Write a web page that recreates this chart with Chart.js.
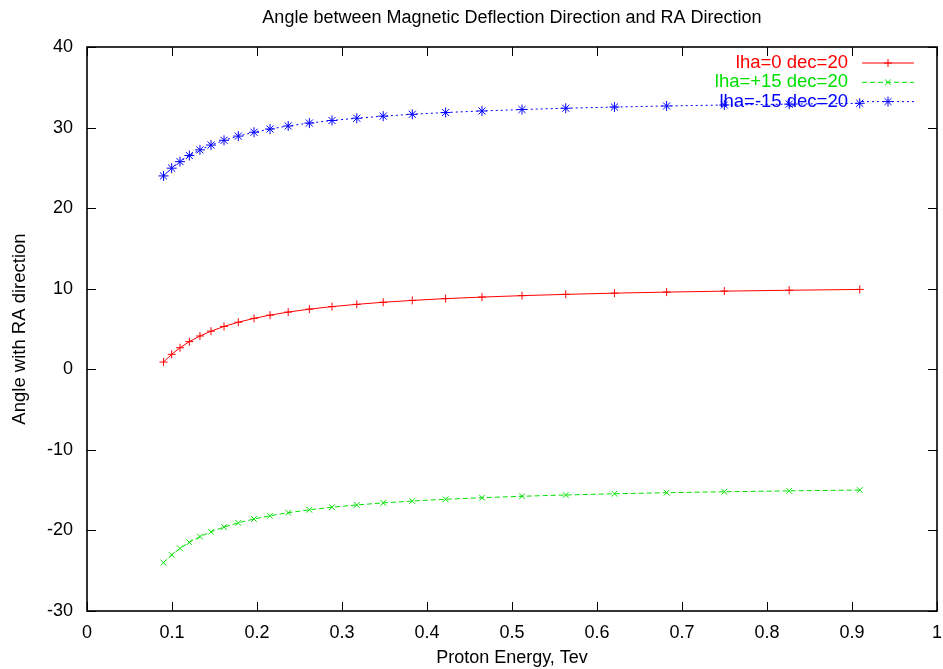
<!DOCTYPE html>
<html>
<head>
<meta charset="utf-8">
<script src="https://cdn.jsdelivr.net/npm/chart.js@4.4.0/dist/chart.umd.min.js"></script>
<style>
  html, body { margin: 0; padding: 0; background: #fff; }
</style>
</head>
<body>
<canvas id="chart" width="943" height="669"></canvas>
<script>
// values
const energy = [0.090, 0.0996, 0.1094, 0.1204, 0.1329, 0.1459, 0.1612, 0.1780, 0.1965, 0.2153,
  0.2367, 0.2616, 0.2882, 0.3174, 0.3485, 0.3827, 0.4219, 0.4647, 0.5118, 0.5632,
  0.6205, 0.6819, 0.7498, 0.8261, 0.9091];
const lha0 = [0.9, 1.86, 2.67, 3.43, 4.13, 4.73, 5.32, 5.84, 6.32, 6.72,
  7.10, 7.46, 7.78, 8.06, 8.32, 8.55, 8.77, 8.96, 9.14, 9.30,
  9.45, 9.58, 9.70, 9.81, 9.91];
const lhaPlus15 = [-24.0, -23.04, -22.23, -21.47, -20.77, -20.17, -19.58, -19.06, -18.58, -18.18,
  -17.8, -17.44, -17.12, -16.84, -16.58, -16.35, -16.13, -15.94, -15.76, -15.6,
  -15.45, -15.32, -15.2, -15.09, -14.99];
const lhaMinus15 = [24.0, 24.96, 25.77, 26.53, 27.23, 27.83, 28.42, 28.94, 29.42, 29.82,
  30.2, 30.56, 30.88, 31.16, 31.42, 31.65, 31.87, 32.06, 32.24, 32.4,
  32.55, 32.68, 32.8, 32.91, 33.01];
const seriesNames = ["lha=0 dec=20", "lha=+15 dec=20", "lha=-15 dec=20"];
const xTickLabels = ["0", "0.1", "0.2", "0.3", "0.4", "0.5", "0.6", "0.7", "0.8", "0.9", "1"];
const yTickLabels = ["-30", "-20", "-10", "0", "10", "20", "30", "40"];
const chartTitle = "Angle between Magnetic Deflection Direction and RA Direction";

const FONT = "'Liberation Sans', Arial, sans-serif";

function pts(vals) {
  return energy.map((e, i) => ({ x: e, y: vals[i] }));
}

// gnuplot style box with inward ticks on all sides, title centred over the plot
const framePlugin = {
  id: "frame",
  afterDraw(chart) {
    const { ctx, chartArea: a, scales: { x, y } } = chart;
    ctx.save();
    ctx.strokeStyle = "#000";
    ctx.lineWidth = 1;
    ctx.beginPath();
    x.ticks.forEach(t => {
      const px = Math.round(x.getPixelForValue(t.value)) + 0.5;
      ctx.moveTo(px, a.bottom); ctx.lineTo(px, a.bottom - 9);
      ctx.moveTo(px, a.top); ctx.lineTo(px, a.top + 9);
    });
    y.ticks.forEach(t => {
      const py = Math.round(y.getPixelForValue(t.value)) + 0.5;
      ctx.moveTo(a.left, py); ctx.lineTo(a.left + 9, py);
      ctx.moveTo(a.right, py); ctx.lineTo(a.right - 9, py);
    });
    ctx.stroke();
    ctx.lineWidth = 1.6;
    ctx.strokeRect(a.left, a.top, a.width, a.height);

    ctx.fillStyle = "#000";
    ctx.font = "18px " + FONT;
    ctx.textAlign = "center";
    ctx.textBaseline = "middle";
    ctx.fillText(chartTitle, (a.left + a.right) / 2, 18);
    ctx.restore();
  }
};

// key in the top right corner, inside the box
const keyPlugin = {
  id: "key",
  afterDraw(chart) {
    const { ctx, chartArea: a } = chart;
    ctx.save();
    ctx.font = "18.5px " + FONT;
    ctx.textAlign = "right";
    ctx.textBaseline = "middle";
    chart.data.datasets.forEach((ds, i) => {
      const yy = 63 + i * 19.3;
      ctx.fillStyle = ds.borderColor;
      ctx.fillText(ds.label, a.right - 89, yy);
      ctx.strokeStyle = ds.borderColor;
      ctx.lineWidth = 1;
      ctx.setLineDash(ds.borderDash || []);
      ctx.beginPath();
      ctx.moveTo(a.right - 75, yy);
      ctx.lineTo(a.right - 23, yy);
      ctx.stroke();
      ctx.setLineDash([]);
      Chart.helpers.drawPoint(ctx, {
        pointStyle: ds.pointStyle, radius: ds.pointRadius, borderWidth: 1, rotation: 0
      }, a.right - 49, yy);
    });
    ctx.restore();
  }
};

new Chart(document.getElementById("chart"), {
  type: "line",
  data: {
    datasets: [
      {
        label: seriesNames[0], data: pts(lha0),
        borderColor: "#ff0000", backgroundColor: "#ff0000",
        borderWidth: 1, pointStyle: "cross", pointRadius: 4, pointBorderWidth: 1
      },
      {
        label: seriesNames[1], data: pts(lhaPlus15),
        borderColor: "#00e000", backgroundColor: "#00e000", borderDash: [5, 3],
        borderWidth: 1, pointStyle: "crossRot", pointRadius: 4, pointBorderWidth: 1
      },
      {
        label: seriesNames[2], data: pts(lhaMinus15),
        borderColor: "#0000ff", backgroundColor: "#0000ff", borderDash: [2, 3],
        borderWidth: 1, pointStyle: "star", pointRadius: 5, pointBorderWidth: 1
      }
    ]
  },
  options: {
    responsive: false,
    animation: false,
    layout: { padding: { top: 47, right: 6, bottom: 0, left: 0 } },
    elements: { line: { tension: 0 } },
    plugins: {
      legend: { display: false },
      tooltip: { enabled: false },
      title: { display: false }
    },
    scales: {
      x: {
        type: "linear", min: 0, max: 1,
        grid: { display: false, drawTicks: false },
        border: { display: false },
        ticks: {
          stepSize: 0.1, color: "#000", padding: 11,
          font: { family: FONT, size: 18 },
          maxRotation: 0, autoSkip: false,
          callback: (v, i) => xTickLabels[i]
        },
        title: {
          display: true, text: "Proton Energy, Tev", color: "#000",
          font: { family: FONT, size: 18 }, padding: { top: 0, bottom: 0 }
        },
        afterFit: s => { s.height = 58; s.paddingRight = 0; s.paddingLeft = 0; }
      },
      y: {
        type: "linear", min: -30, max: 40,
        grid: { display: false, drawTicks: false },
        border: { display: false },
        ticks: {
          stepSize: 10, color: "#000", padding: 14,
          font: { family: FONT, size: 18 },
          callback: (v, i) => yTickLabels[i]
        },
        title: {
          display: true, text: "Angle with RA direction", color: "#000",
          font: { family: FONT, size: 18.5 }, padding: { top: 9, bottom: 0 }
        },
        afterFit: s => { s.width = 87; s.paddingTop = 0; s.paddingBottom = 0; }
      }
    }
  },
  plugins: [framePlugin, keyPlugin]
});
</script>
</body>
</html>
